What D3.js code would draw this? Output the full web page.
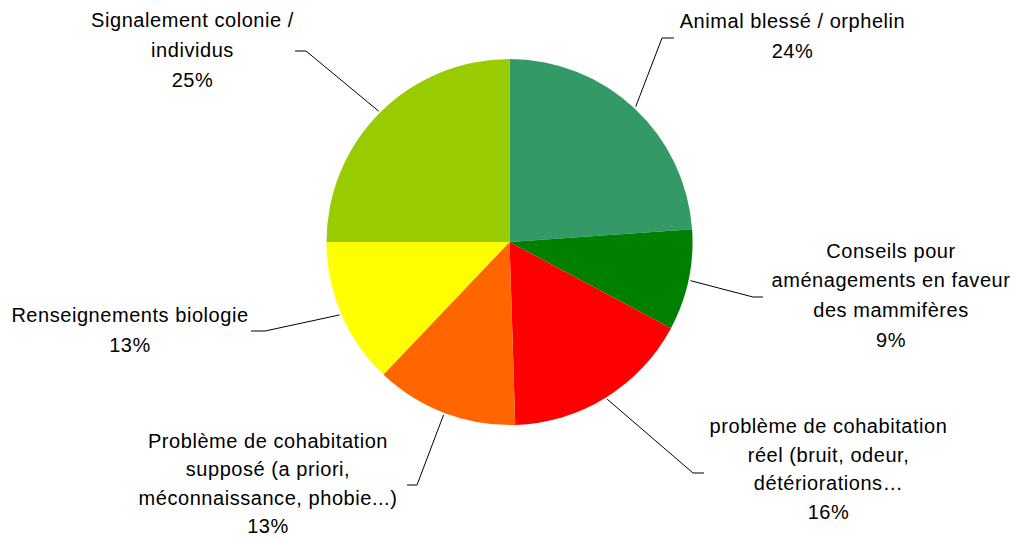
<!DOCTYPE html>
<html>
<head>
<meta charset="utf-8">
<script src="https://cdn.jsdelivr.net/npm/d3@7"></script>
<style>
  html, body { margin: 0; padding: 0; background: #fff; }
  svg { display: block; }
  text { font-family: "Liberation Sans", Arial, sans-serif; font-size: 20px; letter-spacing: 0.55px; fill: #000; }
</style>
</head>
<body>
<svg id="chart" width="1020" height="541"></svg>
<script>
// ---- data ----
const categories = [
  "Animal blessé / orphelin",
  "Conseils pour aménagements en faveur des mammifères",
  "problème de cohabitation réel (bruit, odeur, détériorations…",
  "Problème de cohabitation supposé (a priori, méconnaissance, phobie...)",
  "Renseignements biologie",
  "Signalement colonie / individus"
];
const values = [23.9, 8.9, 16.7, 12.6, 12.9, 25.0];
const pctLabels = ["24%", "9%", "16%", "13%", "13%", "25%"];
const labelLines = [
  ["Animal blessé / orphelin"],
  ["Conseils pour", "aménagements en faveur", "des mammifères"],
  ["problème de cohabitation", "réel (bruit, odeur,", "détériorations…"],
  ["Problème de cohabitation", "supposé (a priori,", "méconnaissance, phobie...)"],
  ["Renseignements biologie"],
  ["Signalement colonie /", "individus"]
];
const colors = ["#339966", "#008000", "#FF0000", "#FF6600", "#FFFF00", "#99CC00"];

// ---- layout (label placement, not data) ----
const labelLayout = [
  { x: 792.5, y: 28,    lh: 30,   elbow: [662, 38],  end: [674, 38] },
  { x: 891,   y: 257.5, lh: 29.7, elbow: [753, 297], end: [763, 297] },
  { x: 828.5, y: 433,   lh: 28.5, elbow: [693, 473], end: [704, 473] },
  { x: 268,   y: 447.5, lh: 28.6, elbow: [417, 485], end: [407, 485] },
  { x: 130,   y: 321.5, lh: 30,   elbow: [265, 331], end: [251, 331] },
  { x: 192.5, y: 27,    lh: 30,   elbow: [306, 51],  end: [295, 51] }
];

const cx = 509.5, cy = 242, R = 183;
const svg = d3.select("#chart");
const g = svg.append("g").attr("transform", `translate(${cx},${cy})`);

const data = categories.map((c, i) => ({ name: c, value: values[i], i }));
const pie = d3.pie().value(d => d.value).sort(null);
const arcs = pie(data);
const arc = d3.arc().innerRadius(0).outerRadius(R);

g.selectAll("path.slice").data(arcs).enter().append("path")
  .attr("class", "slice")
  .attr("d", arc)
  .attr("fill", d => colors[d.data.i]);

// leader lines
arcs.forEach(d => {
  const L = labelLayout[d.data.i];
  const mid = (d.startAngle + d.endAngle) / 2;
  const r = R + 2;
  const sx = cx + r * Math.sin(mid), sy = cy - r * Math.cos(mid);
  svg.append("polyline")
    .attr("points", [[sx, sy], L.elbow, L.end].map(p => p.join(",")).join(" "))
    .attr("fill", "none").attr("stroke", "#000").attr("stroke-width", 1);
});

// labels
arcs.forEach(d => {
  const i = d.data.i;
  const L = labelLayout[i];
  const lines = labelLines[i].concat([pctLabels[i]]);
  const t = svg.append("text").attr("text-anchor", "middle");
  lines.forEach((ln, k) => {
    t.append("tspan").attr("x", L.x).attr("y", L.y + k * L.lh).text(ln);
  });
});
</script>
</body>
</html>
